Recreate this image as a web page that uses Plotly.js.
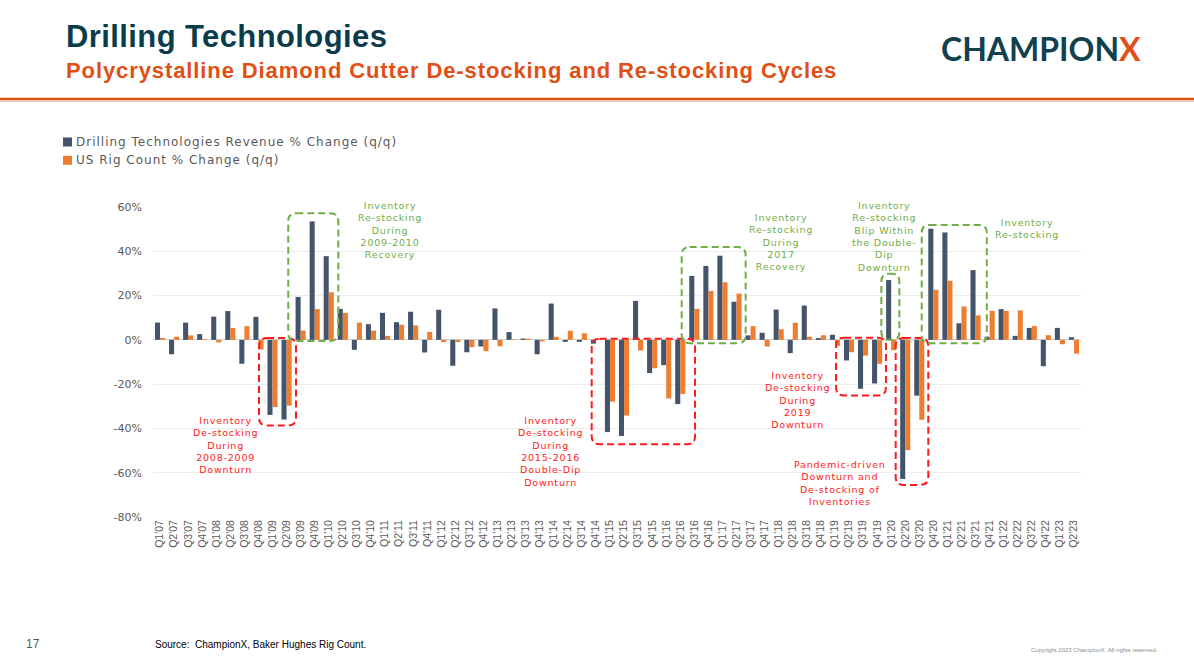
<!DOCTYPE html>
<html>
<head>
<meta charset="utf-8">
<script src="https://cdn.plot.ly/plotly-3.0.1.min.js"></script>
<style>
html,body{margin:0;padding:0;background:#fff;}
#chart{width:1194px;height:671px;}
text.annotation-text[data-unformatted*="<br>"]{letter-spacing:0.8px;}
text.annotation-text[data-unformatted$="(q/q)"]{letter-spacing:1px;}
text.annotation-text[data-unformatted*="Polycrystalline"]{letter-spacing:0.9px;}
text.annotation-text[data-unformatted="<b>Drilling Technologies</b>"]{letter-spacing:0.4px;}
</style>
</head>
<body>
<div id="chart"></div>
<script>
// ---- data ----
const quarters = [
  "Q1'07","Q2'07","Q3'07","Q4'07","Q1'08","Q2'08","Q3'08","Q4'08",
  "Q1'09","Q2'09","Q3'09","Q4'09","Q1'10","Q2'10","Q3'10","Q4'10",
  "Q1'11","Q2'11","Q3'11","Q4'11","Q1'12","Q2'12","Q3'12","Q4'12",
  "Q1'13","Q2'13","Q3'13","Q4'13","Q1'14","Q2'14","Q3'14","Q4'14",
  "Q1'15","Q2'15","Q3'15","Q4'15","Q1'16","Q2'16","Q3'16","Q4'16",
  "Q1'17","Q2'17","Q3'17","Q4'17","Q1'18","Q2'18","Q3'18","Q4'18",
  "Q1'19","Q2'19","Q3'19","Q4'19","Q1'20","Q2'20","Q3'20","Q4'20",
  "Q1'21","Q2'21","Q3'21","Q4'21","Q1'22","Q2'22","Q3'22","Q4'22",
  "Q1'23","Q2'23"
];
const revenueName = "Drilling Technologies Revenue % Change (q/q)";
const revenueChange = [
  7.8, -6.5, 7.8, 2.6,   10.5, 13.0, -10.8, 10.4,
  -33.9, -36.0, 19.4, 53.5,   37.8, 14.0, -4.5, 7.1,
  12.2, 8.0, 12.7, -5.7,   13.6, -11.7, -5.6, -3.0,
  14.2, 3.5, 0.6, -6.5,   16.4, -0.9, -0.9, -1.7,
  -41.6, -43.4, 17.6, -15.0,   -11.4, -29.0, 28.9, 33.4,
  38.0, 17.2, 2.0, 3.2,   13.7, -6.0, 15.5, 0.8,
  2.3, -9.3, -22.1, -19.7,   27.0, -62.8, -25.2, 50.2,
  48.5, 7.5, 31.5, 1.4,   13.9, 1.8, 5.4, -11.9,
  5.4, 1.2
];
const rigName = "US Rig Count % Change (q/q)";
const rigChange = [
  0.8, 1.4, 2.0, 0.3,   -1.2, 5.4, 6.2, -4.4,
  -30.3, -29.7, 4.2, 13.9,   21.5, 12.2, 7.8, 4.2,
  1.8, 6.8, 6.5, 3.6,   -1.0, -1.0, -3.3, -5.1,
  -2.9, 0.3, 0.5, -0.7,   1.4, 4.1, 3.0, 0.5,
  -27.9, -34.2, -4.8, -12.8,   -26.5, -24.4, 14.0, 22.1,
  26.0, 20.9, 6.2, -3.0,   4.8, 7.7, 1.4, 2.1,
  -2.7, -5.6, -7.1, -10.8,   -4.7, -49.8, -36.1, 22.6,
  26.7, 15.1, 11.1, 13.1,   13.1, 13.3, 6.2, 2.1,
  -2.0, -6.2
];
const yTicks = [-80, -60, -40, -20, 0, 20, 40, 60];

// callout texts (lines)
const callouts = [
  {lines:["Inventory","De-stocking","During","2008-2009","Downturn"], x:4.69, y:-47.3, kind:"de"},
  {lines:["Inventory","Re-stocking","During","2009-2010","Recovery"], x:16.36, y:49.5, kind:"re"},
  {lines:["Inventory","De-stocking","During","2015-2016","Double-Dip","Downturn"], x:27.74, y:-50.3, kind:"de"},
  {lines:["Inventory","Re-stocking","During","2017","Recovery"], x:44.14, y:44.2, kind:"re"},
  {lines:["Inventory","De-stocking","During","2019","Downturn"], x:45.33, y:-27.2, kind:"de"},
  {lines:["Inventory","Re-stocking","Blip Within","the Double-","Dip","Downturn"], x:51.51, y:46.7, kind:"re"},
  {lines:["Pandemic-driven","Downturn and","De-stocking of","Inventories"], x:48.36, y:-64.6, kind:"de"},
  {lines:["Inventory","Re-stocking"], x:61.66, y:50.4, kind:"re"}
];
// dashed highlight boxes [x0, x1, y0, y1]
const boxes = [
  {b:[7.04, 9.67, -38.7, 0.8], kind:"de"},
  {b:[9.12, 12.68, -0.5, 57.2], kind:"re"},
  {b:[30.7, 38.05, -47.1, 0.5], kind:"de"},
  {b:[37.1, 41.65, -1.5, 41.9], kind:"re"},
  {b:[48.08, 51.63, -25.1, 1.0], kind:"de"},
  {b:[51.3, 52.58, 0.0, 29.8], kind:"re"},
  {b:[52.32, 54.64, -65.5, 0.8], kind:"de"},
  {b:[54.17, 58.8, -1.5, 51.9], kind:"re"}
];

// ---- styles ----
const DARK = "#44546a", ORANGE = "#ed7d31";
const RED = "#ff1a1a", GREEN = "#70ad47";
const TEAL = "#0b3c4b", TITLE_ORANGE = "#e04f16";
const W = 1194, H = 671;
const M = {l:153, r:113, t:207, b:154};
const PW = W - M.l - M.r, PH = H - M.t - M.b;
const px = v => (v - M.l) / PW;          // page px -> paper x
const py = v => (H - M.b - v) / PH;      // page px -> paper y

const idx = quarters.map((q, i) => i);

const traces = [
  {type:"bar", name:revenueName, x:idx, y:revenueChange, marker:{color:DARK}, hoverinfo:"skip"},
  {type:"bar", name:rigName, x:idx, y:rigChange, marker:{color:ORANGE}, hoverinfo:"skip"}
];

function roundedPath(x0, x1, y0, y1, rx, ry) {
  return `M${x0+rx},${y1} L${x1-rx},${y1} Q${x1},${y1} ${x1},${y1-ry} ` +
         `L${x1},${y0+ry} Q${x1},${y0} ${x1-rx},${y0} L${x0+rx},${y0} ` +
         `Q${x0},${y0} ${x0},${y0+ry} L${x0},${y1-ry} Q${x0},${y1} ${x0+rx},${y1} Z`;
}

const shapes = [];
const rx = 8 / (PW / quarters.length);
const ry = 8 / (PH / 140);
boxes.forEach(o => {
  const [x0, x1, y0, y1] = o.b;
  const r = Math.min(rx, (x1 - x0) / 2.5);
  shapes.push({type:"path", xref:"x", yref:"y", path:roundedPath(x0, x1, y0, y1, r, ry),
    line:{color:o.kind === "de" ? RED : GREEN, width:2, dash:"7px,4px"}, layer:"above"});
});
// header rule
shapes.push({type:"line", xref:"paper", yref:"paper", x0:px(0), x1:px(W), y0:py(99), y1:py(99),
  line:{color:"#e04f16", width:2.5}});
shapes.push({type:"line", xref:"paper", yref:"paper", x0:px(0), x1:px(W), y0:py(101.2), y1:py(101.2),
  line:{color:"#f4b39a", width:1}});
// legend swatches
shapes.push({type:"rect", xref:"paper", yref:"paper", x0:px(63), x1:px(72), y0:py(137.5), y1:py(146.5),
  fillcolor:DARK, line:{width:0}});
shapes.push({type:"rect", xref:"paper", yref:"paper", x0:px(63), x1:px(72), y0:py(155.8), y1:py(164.8),
  fillcolor:ORANGE, line:{width:0}});

const annotations = [];
callouts.forEach(c => {
  annotations.push({xref:"x", yref:"y", x:c.x, y:c.y, text:c.lines.join("<br>"), showarrow:false,
    xanchor:"center", yanchor:"middle", align:"center", borderpad:0,
    font:{family:"DejaVu Sans, Verdana, sans-serif", size:9.5, color:c.kind === "de" ? RED : GREEN}});
});
// titles
annotations.push({xref:"paper", yref:"paper", x:px(64), y:py(36), xanchor:"left", yanchor:"middle",
  text:"<b>Drilling Technologies</b>", showarrow:false,
  font:{family:"Liberation Sans, Arial, sans-serif", size:31, color:TEAL}});
annotations.push({xref:"paper", yref:"paper", x:px(64), y:py(70), xanchor:"left", yanchor:"middle",
  text:"<b>Polycrystalline Diamond Cutter De-stocking and Re-stocking Cycles</b>", showarrow:false,
  font:{family:"Liberation Sans, Arial, sans-serif", size:22, color:TITLE_ORANGE}});
// logo
annotations.push({xref:"paper", yref:"paper", x:px(1041), y:py(49), xanchor:"center", yanchor:"middle",
  text:"<b>CHAMPION<span style='color:#e04f16'>X</span></b>", showarrow:false,
  font:{family:"Lato, Inter, sans-serif", size:32, color:"#11414f"}});
// legend texts
annotations.push({xref:"paper", yref:"paper", x:px(74), y:py(142), xanchor:"left", yanchor:"middle",
  text:revenueName, showarrow:false, font:{family:"DejaVu Sans, Verdana, sans-serif", size:12, color:"#595959"}});
annotations.push({xref:"paper", yref:"paper", x:px(74), y:py(160.3), xanchor:"left", yanchor:"middle",
  text:rigName, showarrow:false, font:{family:"DejaVu Sans, Verdana, sans-serif", size:12, color:"#595959"}});
// footer
annotations.push({xref:"paper", yref:"paper", x:px(24), y:py(644), xanchor:"left", yanchor:"middle",
  text:"17", showarrow:false, font:{family:"Liberation Sans, Arial, sans-serif", size:12, color:"#595959"}});
annotations.push({xref:"paper", yref:"paper", x:px(153), y:py(644), xanchor:"left", yanchor:"middle",
  text:"Source:  ChampionX, Baker Hughes Rig Count.", showarrow:false,
  font:{family:"Liberation Sans, Arial, sans-serif", size:10, color:"#000"}});
annotations.push({xref:"paper", yref:"paper", x:px(1160), y:py(650), xanchor:"right", yanchor:"middle",
  text:"Copyright 2023 ChampionX. All rights reserved.", showarrow:false,
  font:{family:"Liberation Sans, Arial, sans-serif", size:6, color:"#8c8c8c"}});

const layout = {
  width:W, height:H, margin:M,
  paper_bgcolor:"#fff", plot_bgcolor:"#fff",
  showlegend:false, barmode:"group", bargap:0.28, bargroupgap:0,
  xaxis:{type:"linear", range:[-0.5, quarters.length - 0.5], tickmode:"array", tickvals:idx, ticktext:quarters,
    tickangle:-90, showgrid:false, zeroline:false, showline:false, ticks:"",
    tickfont:{family:"Liberation Sans, Arial, sans-serif", size:10.5, color:"#595959"}},
  yaxis:{range:[-80, 60], tickmode:"array", tickvals:yTicks, ticktext:yTicks.map(v => v + "%"),
    showgrid:true, gridcolor:"#ececec", gridwidth:1, zeroline:true, zerolinecolor:"#d0d0d0", zerolinewidth:1,
    showline:false, ticks:"", ticklabelstandoff:10,
    tickfont:{family:"DejaVu Sans, Verdana, sans-serif", size:11, color:"#595959"}},
  shapes:shapes, annotations:annotations
};

Plotly.newPlot("chart", traces, layout, {staticPlot:true, displayModeBar:false});
</script>
</body>
</html>
